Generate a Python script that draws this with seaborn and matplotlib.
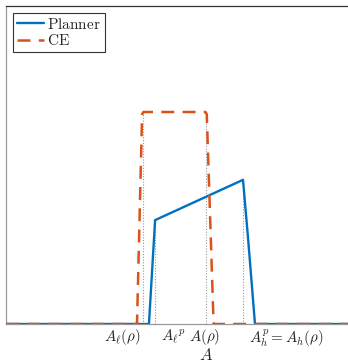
import numpy as np
import pandas as pd
import matplotlib
matplotlib.use('Agg')
import matplotlib.pyplot as plt
import seaborn as sns

# density of A under the planner and in the competitive equilibrium
planner_a = [0.0, 0.418, 0.436, 0.693, 0.708, 0.728, 1.0]
planner_f = [0.0, 0.0, 0.49, 0.68, 0.40, 0.0, 0.0]
ce_a = [0.0, 0.383, 0.398, 0.402, 0.583, 0.587, 0.607, 1.0]
ce_f = [0.0, 0.0, 0.99, 1.0, 1.0, 0.99, 0.0, 0.0]

# cut-offs marked with dotted guides (position, height)
guide_a = [0.400, 0.436, 0.585, 0.693]
guide_f = [1.0, 0.49, 1.0, 0.68]

tick_pos = [0.34, 0.488, 0.58, 0.82]
tick_labels = [r'$A_\ell(\rho)$', r'${A_\ell}^p$', r'$A(\rho)$', r'$A_h^p = A_h(\rho)$']

sns.set_style('white')
plt.rcParams['mathtext.fontset'] = 'cm'
plt.rcParams['font.family'] = ['DejaVu Serif']

fig = plt.figure(figsize=(3.48, 3.64), dpi=100)
ax = fig.add_axes([6 / 348, 40 / 364, 342 / 348, 318 / 364])

for a, f in zip(guide_a, guide_f):
    ax.plot([a, a], [0, f], color='#999999', lw=0.8, ls=(0, (1, 1.5)), zorder=1)

df_p = pd.DataFrame({'A': planner_a, 'f': planner_f})
df_c = pd.DataFrame({'A': ce_a, 'f': ce_f})
sns.lineplot(data=df_p, x='A', y='f', ax=ax, color='#0072BD', lw=1.7,
             sort=False, estimator=None, label=r'$\mathrm{Planner}$', zorder=3)
sns.lineplot(data=df_c, x='A', y='f', ax=ax, color='#D95319', lw=1.8,
             sort=False, estimator=None, label=r'$\mathrm{CE}$', zorder=4)
ax.lines[-1].set_dashes((5.2, 3.3))

ax.set_xlim(0, 1.0)
ax.set_ylim(0, 1.5)
ax.set_xticks(tick_pos)
ax.set_xticklabels(tick_labels, fontsize=10.8)
ax.set_yticks([])
ax.tick_params(axis='x', length=0, pad=2.5)
ax.set_xlabel(r'$A$', fontsize=12)
ax.xaxis.set_label_coords(0.585, -0.072)
ax.set_ylabel('')

for s in ['left', 'top', 'bottom']:
    ax.spines[s].set_color('#333333')
    ax.spines[s].set_linewidth(0.9)
ax.spines['left'].set_color('#999999')
ax.spines['bottom'].set_color('#999999')
ax.spines['right'].set_visible(False)

leg = ax.legend(loc='upper left', fontsize=11, frameon=True, fancybox=False,
                handlelength=1.8, handletextpad=0.2, borderpad=0.25,
                labelspacing=0.1, borderaxespad=0.45)
leg.get_frame().set_edgecolor('black')
leg.get_frame().set_linewidth(0.8)

fig.savefig('out.png', dpi=100)
